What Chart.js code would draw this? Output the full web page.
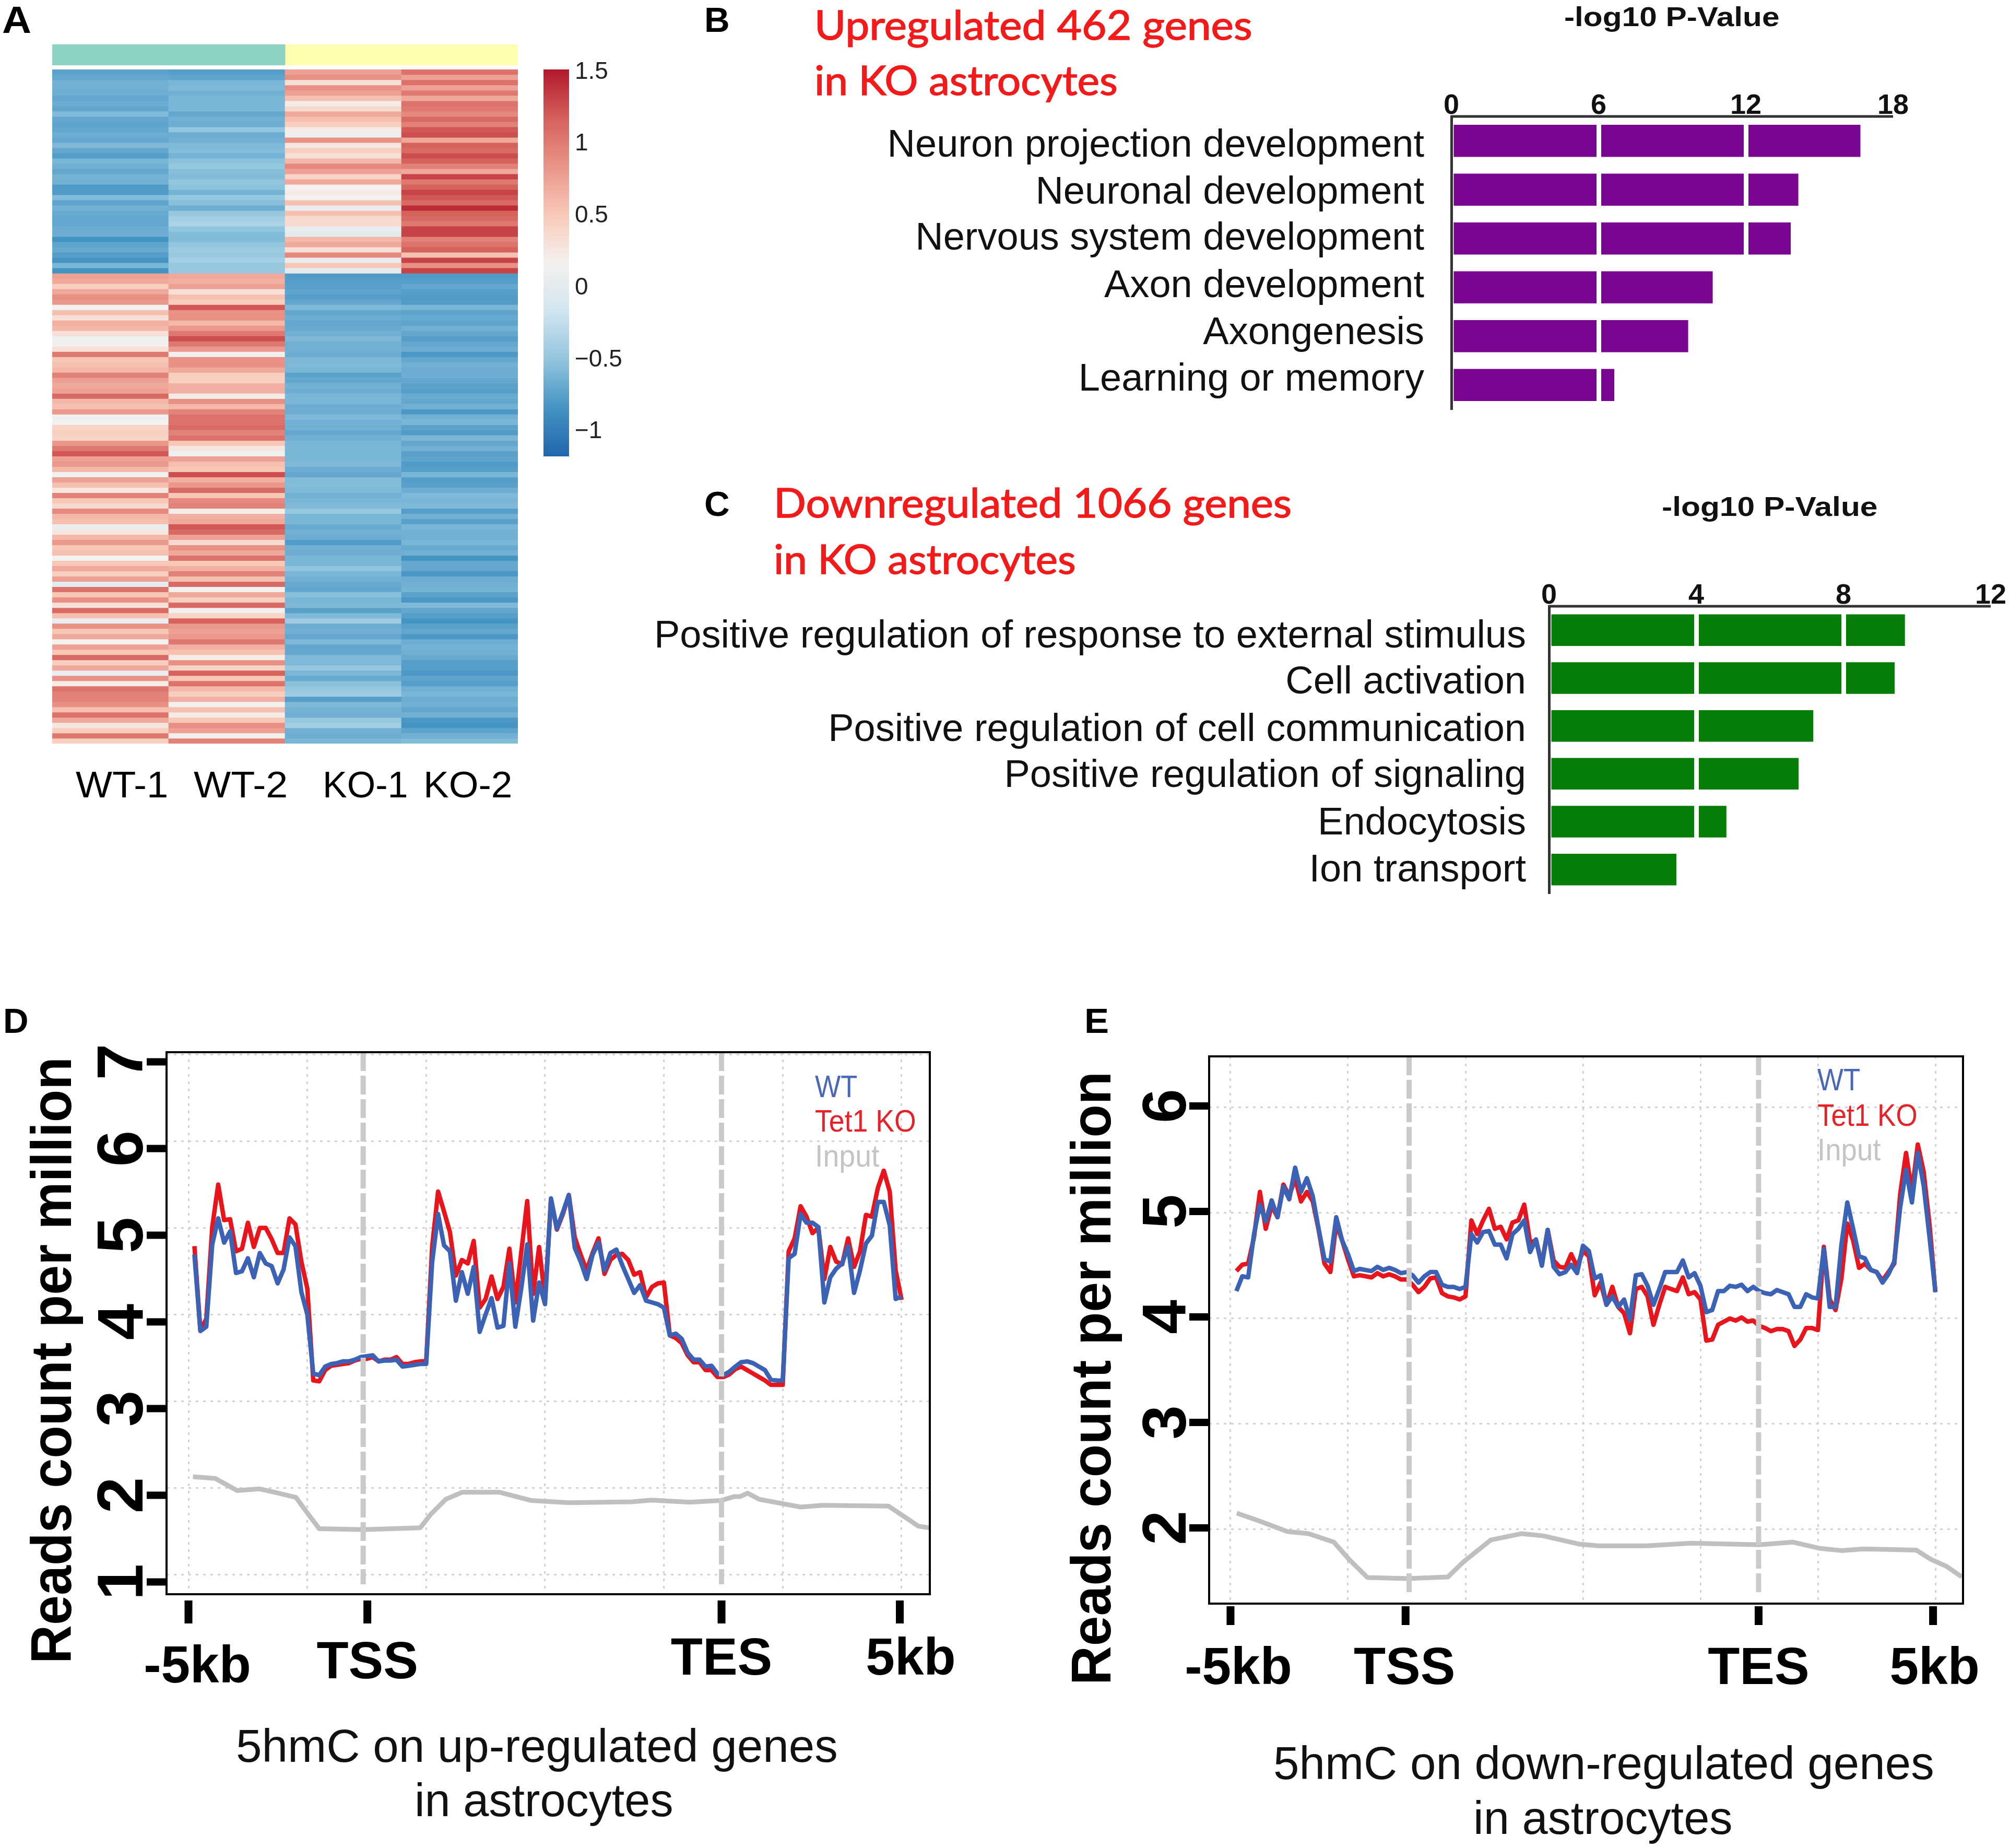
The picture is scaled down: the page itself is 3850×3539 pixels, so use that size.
<!DOCTYPE html>
<html>
<head>
<meta charset="utf-8">
<title>5hmC astrocytes figure</title>
<script src="https://cdn.jsdelivr.net/npm/chart.js@4"></script>
<style>
    html, body { margin: 0; background: #fff; }
    #page { position: relative; width: 3850px; height: 3539px; overflow: hidden; background: #fff; }
    #page canvas { position: absolute; }
    .txt { position: absolute; white-space: nowrap; transform-origin: 0 0; }
</style>
</head>
<body>
<div id="page"></div>
<script>
// panel A: heatmap, rows top to bottom
const samples = ['WT-1', 'WT-2', 'KO-1', 'KO-2'];
const heatWt1 = [
    -.75,-.72,-.65,-.66,-.68,-.72,-.68,-.72,-.58,-.72,-.74,-.72,-.68,-.72,-.6,-.72,-.78,-.62,-.66,-.72,-.64,-.65,-.8,-.8,-.58,-.74,-.65,-.7,-.72,-.72,-.68,-.68,-.85,-.74,-.7,-.78,-.85,-.62,-.85,
    .75,.7,.45,.7,.85,.8,.15,.55,.3,.65,.6,.3,.1,.15,.3,1,.5,.55,.6,.95,.75,.7,.75,1.1,.6,.55,.8,.1,.15,.4,.45,.4,.8,1,1.2,.75,.8,.6,.1,.75,.55,.25,.95,.5,.35,
    .9,.6,.55,.05,.25,.6,.8,.5,.55,.15,.5,.7,.45,.75,0,1.05,.5,.85,.3,1.1,.55,.05,.85,.5,.7,.15,.75,.5,1.1,.45,.7,.05,.85,.2,1.05,.95,.95,.85,.55,1.05,.7,.25,.45,1,.45
];
const heatWt2 = [
    -.78,-.74,-.62,-.6,-.65,-.62,-.62,-.62,-.72,-.66,-.68,-.52,-.68,-.66,-.6,-.58,-.64,-.55,-.5,-.56,-.58,-.52,-.54,-.64,-.5,-.56,-.68,-.5,-.42,-.38,-.52,-.58,-.58,-.52,-.46,-.48,-.42,-.5,-.48,
    .7,.65,.75,.3,.55,.45,1.2,.85,.85,.6,.8,1,1.25,1,.8,.15,.85,.85,.7,.45,.45,.65,.65,.2,.85,.6,.95,1.05,1.05,1.1,.95,1.05,.5,.25,.1,.75,.55,.5,1.25,.65,.8,1.1,.5,.9,.95,
    .2,.65,.7,1.2,1.1,.75,.35,.85,.7,1.05,.5,.65,.95,.55,1.1,.15,.7,.45,1.1,.15,.4,1.15,.8,.75,.8,1,.65,.55,.2,.85,.4,1.15,.5,1.05,.6,.45,.65,.15,.55,.2,.5,.85,.75,.15,.95
];
const heatKo1 = [
    .75,.85,.3,.85,.75,.55,.2,.35,.7,.55,.45,.2,.1,.85,.25,.45,.3,.6,.9,.75,.4,.7,.15,.2,.15,.55,.05,.55,.35,.35,.05,0,.6,.7,.3,.9,.05,.5,0,
    -.8,-.78,-.76,-.74,-.78,-.72,-.6,-.72,-.68,-.72,-.7,-.66,-.6,-.66,-.65,-.68,-.6,-.6,-.62,-.75,-.72,-.65,-.68,-.62,-.62,-.68,-.68,-.6,-.66,-.66,-.72,-.66,-.62,-.62,-.62,-.62,-.6,-.68,-.72,-.58,-.58,-.6,-.65,-.62,-.6,
    -.5,-.62,-.62,-.7,-.66,-.68,-.8,-.66,-.68,-.62,-.62,-.52,-.62,-.66,-.7,-.72,-.56,-.62,-.6,-.75,-.6,-.45,-.68,-.66,-.72,-.6,-.72,-.72,-.6,-.6,-.5,-.62,-.7,-.56,-.5,-.45,-.78,-.6,-.64,-.66,-.5,-.42,-.66,-.68,-.62
];
const heatKo2 = [
    1.05,.75,1.05,.75,1,.7,1.05,1,.9,1.1,.95,1.2,1.25,.7,1.15,1.1,1.25,1.15,.95,.7,1.3,1,1.15,1.3,1.2,1.1,1.4,1.15,1.1,1,1.3,1.3,.95,1.05,1.15,.55,1.3,.85,1.3,
    -.8,-.78,-.72,-.78,-.8,-.8,-.62,-.74,-.7,-.74,-.66,-.72,-.78,-.72,-.68,-.82,-.72,-.66,-.68,-.68,-.72,-.75,-.78,-.7,-.72,-.66,-.82,-.66,-.62,-.75,-.8,-.62,-.72,-.66,-.76,-.74,-.8,-.78,-.62,-.78,-.76,-.68,-.6,-.62,-.6,
    -.78,-.66,-.76,-.62,-.66,-.66,-.62,-.7,-.66,-.85,-.72,-.72,-.82,-.68,-.66,-.64,-.75,-.82,-.6,-.72,-.78,-.85,-.76,-.72,-.82,-.68,-.64,-.66,-.7,-.78,-.78,-.82,-.74,-.78,-.66,-.62,-.68,-.66,-.72,-.66,-.82,-.85,-.74,-.66,-.58
];
const colorStopValues = [-1.19, -.854, -.518, -.181, .155, .491, .827, 1.164, 1.5];
const colorStopHex = ['#2166ac', '#4393c3', '#92c5de', '#d1e5f0', '#f4f1ef', '#f8c9b8', '#ea9488', '#d5605a', '#b2182b'];

// panels B and C
const upTerms = ['Neuron projection development', 'Neuronal development', 'Nervous system development', 'Axon development', 'Axongenesis', 'Learning or memory'];
const upPvals = [16.67, 14.14, 13.83, 10.65, 9.65, 6.64];
const downTerms = ['Positive regulation of response to external stimulus', 'Cell activation', 'Positive regulation of cell communication', 'Positive regulation of signaling', 'Endocytosis', 'Ion transport'];
const downPvals = [9.67, 9.39, 7.18, 6.78, 4.82, 3.46];

// panel D, one value per bin (bins 1..120)
const wtUp = [4.69,3.81,3.86,4.81,5.11,4.83,4.96,4.48,4.50,4.65,4.43,4.71,4.59,4.56,4.36,4.52,4.89,4.79,4.26,4.00,
    3.32,3.30,3.40,3.43,3.44,3.46,3.46,3.48,3.51,3.52,3.53,3.46,3.47,3.47,3.48,3.40,3.41,3.42,3.43,3.43,
    4.60,5.16,4.80,4.73,4.16,4.49,4.24,4.55,3.80,4.00,4.19,3.85,3.87,4.59,3.86,4.30,4.81,3.93,4.37,4.12,
    5.34,4.99,5.18,5.38,4.77,4.61,4.41,4.69,4.83,4.51,4.71,4.75,4.57,4.41,4.25,4.34,4.16,4.14,4.12,4.08,
    3.76,3.78,3.72,3.56,3.48,3.48,3.40,3.41,3.32,3.30,3.34,3.40,3.45,3.46,3.44,3.40,3.36,3.25,3.24,3.24,
    4.65,4.70,5.16,5.06,5.06,5.01,4.14,4.43,4.53,4.59,4.79,4.25,4.51,4.82,4.91,5.30,5.30,5.03,4.18,4.21];
const koUp = [4.79,3.82,3.95,5.01,5.50,5.09,5.10,4.73,4.76,5.06,4.78,5.00,5.00,4.87,4.71,4.71,5.11,5.04,4.61,4.30,
    3.24,3.23,3.36,3.41,3.42,3.43,3.44,3.47,3.49,3.49,3.51,3.46,3.48,3.48,3.51,3.43,3.43,3.45,3.46,3.46,
    4.78,5.42,5.19,4.95,4.45,4.63,4.59,4.85,4.08,4.18,4.44,4.18,4.32,4.76,4.14,4.72,5.31,4.24,4.78,4.18,
    5.33,4.98,5.16,5.38,4.89,4.69,4.51,4.71,4.88,4.47,4.63,4.69,4.70,4.63,4.46,4.49,4.20,4.32,4.36,4.37,
    3.76,3.73,3.67,3.53,3.45,3.45,3.36,3.36,3.28,3.28,3.31,3.37,3.40,3.36,3.32,3.28,3.24,3.19,3.19,3.19,
    4.73,4.88,5.25,5.13,4.94,5.00,4.41,4.78,4.61,4.58,4.88,4.55,4.73,5.15,5.13,5.46,5.66,5.42,4.51,4.17];
const inputUpBins = [0.75,4.5,8.2,11.9,15.1,18.1,19.9,22,29.5,39,40.7,43.3,46,52.4,57.7,64,74.7,77.9,84.3,89.6,91.8,92.8,94.1,96,103,106.7,117.8,120,122.8,124.7];
const inputUpVals = [2.13,2.11,1.97,1.99,1.94,1.89,1.72,1.53,1.52,1.54,1.69,1.87,1.95,1.95,1.855,1.83,1.84,1.86,1.836,1.855,1.90,1.90,1.94,1.87,1.78,1.80,1.79,1.69,1.56,1.54];

// panel E
const wtDown = [4.26,4.40,4.39,4.80,5.08,4.92,5.12,4.96,5.25,5.13,5.43,5.20,5.33,5.16,4.85,4.56,4.54,4.96,4.74,4.61,
    4.45,4.47,4.46,4.45,4.49,4.46,4.48,4.46,4.43,4.44,4.41,4.34,4.40,4.44,4.44,4.32,4.30,4.30,4.28,4.30,
    4.80,4.72,4.82,4.83,4.70,4.70,4.57,4.80,4.85,4.93,4.63,4.75,4.50,4.84,4.49,4.42,4.44,4.51,4.43,4.69,
    4.64,4.38,4.41,4.13,4.21,4.11,4.18,3.99,4.41,4.42,4.31,4.13,4.28,4.44,4.44,4.44,4.55,4.39,4.43,4.31,
    4.06,4.08,4.26,4.26,4.31,4.30,4.32,4.26,4.30,4.26,4.24,4.23,4.27,4.25,4.23,4.11,4.11,4.23,4.20,4.19,
    4.66,4.11,4.11,4.70,5.10,4.85,4.59,4.57,4.46,4.44,4.34,4.42,4.54,5.05,5.41,5.10,5.57,5.26,4.77,4.25];
const koDown = [4.45,4.51,4.52,4.77,5.20,4.85,5.07,4.96,5.27,5.16,5.33,5.11,5.20,5.11,4.84,4.52,4.44,4.90,4.74,4.56,
    4.40,4.41,4.40,4.39,4.43,4.40,4.42,4.40,4.37,4.37,4.32,4.25,4.30,4.38,4.39,4.24,4.21,4.20,4.18,4.21,
    4.93,4.80,4.93,5.04,4.85,4.87,4.75,4.91,4.93,5.08,4.72,4.74,4.52,4.84,4.55,4.49,4.48,4.61,4.49,4.64,
    4.59,4.22,4.34,4.13,4.30,4.11,4.05,3.86,4.28,4.30,4.21,3.94,4.13,4.30,4.28,4.26,4.39,4.23,4.25,4.18,
    3.79,3.80,3.94,3.97,4.00,3.98,4.01,3.97,3.98,3.93,3.91,3.88,3.90,3.90,3.88,3.74,3.80,3.91,3.91,3.89,
    4.68,4.18,4.08,4.38,4.90,4.74,4.48,4.52,4.46,4.44,4.36,4.44,4.52,5.18,5.57,5.20,5.65,5.39,4.89,4.25];
const inputDownBins = [1.07,4.4,9.7,13.3,17.6,20.2,23.3,30.1,37,39.6,44.3,49.5,53.2,59.5,62.6,71,78.4,90,95.7,100.4,104,107.8,116.7,119.3,121.9,124.5];
const inputDownVals = [2.155,2.09,1.98,1.96,1.88,1.715,1.545,1.535,1.55,1.69,1.90,1.96,1.94,1.86,1.845,1.845,1.87,1.855,1.88,1.82,1.80,1.815,1.805,1.715,1.65,1.55];

const profileTickLabels = ['-5kb', 'TSS', 'TES', '5kb'];

const page = document.getElementById('page');
const SANS = '"Liberation Sans", Arial, sans-serif';
const LATO = 'Lato, sans-serif';

const hexToRgb = (hex) => [1, 3, 5].map(i => parseInt(hex.slice(i, i + 2), 16));

const heatColor = (v) => {
    let i = 0;
    while (i < colorStopValues.length - 2 && v > colorStopValues[i + 1]) i++;
    const t = Math.min(1, Math.max(0, (v - colorStopValues[i]) / (colorStopValues[i + 1] - colorStopValues[i])));
    const a = hexToRgb(colorStopHex[i]);
    const b = hexToRgb(colorStopHex[i + 1]);
    return `rgb(${a.map((c, k) => Math.round(c + (b[k] - c) * t)).join(',')})`;
};

// places a canvas so that the plot area lands on page coords
function addChart(plot, margin, config) {
    const canvas = document.createElement('canvas');
    const w = plot.x1 - plot.x0 + margin.l + margin.r;
    const h = plot.y1 - plot.y0 + margin.t + margin.b;
    canvas.width = w;
    canvas.height = h;
    canvas.style.cssText = `left:${plot.x0 - margin.l}px;top:${plot.y0 - margin.t}px;width:${w}px;height:${h}px`;
    page.appendChild(canvas);
    config.options = {
        responsive: false,
        animation: false,
        devicePixelRatio: 1,
        events: [],
        plugins: { legend: { display: false }, tooltip: { enabled: false } },
        ...config.options
    };
    return new Chart(canvas.getContext('2d'), config);
}

// free text, x and baseline in page coords, stretched to the width
function addText(text, x, baseline, { font = SANS, weight = 400, size = 60, color = '#000', width = null, rotate = 0, stroke = 0 } = {}) {
    const el = document.createElement('div');
    el.className = 'txt';
    el.textContent = text;
    el.style.fontFamily = font;
    el.style.fontWeight = weight;
    el.style.fontSize = size + 'px';
    el.style.color = color;
    if (stroke) el.style.webkitTextStroke = `${stroke}px ${color}`;
    const probe = document.createElement('span');
    probe.style.cssText = 'display:inline-block;width:0;height:0';
    el.appendChild(probe);
    page.appendChild(el);
    const base = probe.offsetTop;
    const k = width ? width / el.offsetWidth : 1;
    el.style.left = x + 'px';
    el.style.top = (baseline - base) + 'px';
    el.style.transformOrigin = `0 ${base}px`;
    el.style.transform = `${rotate ? `rotate(${rotate}deg) ` : ''}scaleX(${k})`;
}

// ---- panel A
const heatRows = heatWt1.map((v, i) => [v, heatWt2[i], heatKo1[i], heatKo2[i]]);
addChart({ x0: 100, y0: 133, x1: 992, y1: 1424 }, { l: 0, t: 0, r: 0, b: 0 }, {
    type: 'bar',
    data: {
        labels: samples,
        datasets: heatRows.map(row => ({
            data: samples.map(() => 1),
            backgroundColor: row.map(heatColor),
            barPercentage: 1,
            categoryPercentage: 1,
            stack: 'rows'
        }))
    },
    options: {
        layout: { autoPadding: false },
        scales: {
            x: { display: false, stacked: true },
            y: { display: false, stacked: true, reverse: true, min: 0, max: heatRows.length }
        }
    }
});

addChart({ x0: 100, y0: 85, x1: 992, y1: 125 }, { l: 0, t: 0, r: 0, b: 0 }, {
    type: 'bar',
    data: {
        labels: ['group'],
        datasets: [
            { data: [2], backgroundColor: '#8dd3c4', barPercentage: 1, categoryPercentage: 1 },
            { data: [2], backgroundColor: '#ffffb0', barPercentage: 1, categoryPercentage: 1 }
        ]
    },
    options: {
        indexAxis: 'y',
        layout: { autoPadding: false },
        scales: {
            x: { display: false, stacked: true, min: 0, max: 4 },
            y: { display: false, stacked: true }
        }
    }
});

addChart({ x0: 1041, y0: 133, x1: 1090, y1: 874 }, { l: 0, t: 45, r: 160, b: 45 }, {
    type: 'bar',
    data: {
        labels: ['scale'],
        datasets: [{
            data: [[-1.19, 1.5]],
            barPercentage: 1,
            categoryPercentage: 1,
            backgroundColor: (ctx) => {
                const { chart } = ctx;
                if (!chart.chartArea) return colorStopHex[0];
                const g = chart.ctx.createLinearGradient(0, chart.chartArea.bottom, 0, chart.chartArea.top);
                colorStopValues.forEach((v, i) => g.addColorStop((v + 1.19) / 2.69, colorStopHex[i]));
                return g;
            }
        }]
    },
    options: {
        layout: { autoPadding: false, padding: { top: 45, bottom: 45 } },
        scales: {
            x: { display: false },
            y: {
                position: 'right',
                min: -1.19,
                max: 1.5,
                afterFit: (s) => { s.width = 160; },
                grid: { display: false, drawTicks: false },
                border: { display: false },
                ticks: {
                    stepSize: 0.5,
                    includeBounds: false,
                    padding: 11,
                    labelOffset: 5,
                    color: '#222',
                    font: { family: SANS, size: 46 },
                    callback: (v) => String(v).replace('-', '\u2212')
                }
            }
        }
    }
});

// ---- panels B, C
// the axis line on top of the bars
const topAxisLine = {
    id: 'topAxisLine',
    afterDraw(chart) {
        const { ctx, chartArea: area } = chart;
        ctx.save();
        ctx.strokeStyle = '#333';
        ctx.lineWidth = 5;
        ctx.beginPath();
        ctx.moveTo(area.left, area.top);
        ctx.lineTo(area.right, area.top);
        ctx.stroke();
        ctx.restore();
    }
};

// labelRows: where the term labels sit, in rows from the top (they do not quite line up with the bars)
function addGoBars(plot, left, terms, values, color, max, step, labelGap, labelRows) {
    // top and bottom room must cover half a tick label plus its padding, the layout reserves that
    addChart(plot, { l: left, t: 110, r: 60, b: 110 }, {
        type: 'bar',
        data: {
            labels: terms,
            datasets: [{ data: values, backgroundColor: color, barPercentage: 0.66, categoryPercentage: 1 }]
        },
        options: {
            indexAxis: 'y',
            layout: { autoPadding: false, padding: { right: 60, bottom: 110 } },
            scales: {
                x: {
                    position: 'top',
                    min: 0,
                    max,
                    afterFit: (s) => { s.height = 110; },
                    grid: {
                        z: 1,
                        lineWidth: 9,
                        drawTicks: false,
                        color: (ctx) => (ctx.tick.value === 0 || ctx.tick.value === max ? 'rgba(0,0,0,0)' : '#fff')
                    },
                    border: { display: false },
                    ticks: { stepSize: step, padding: -13, color: '#111', maxRotation: 0, font: { family: SANS, size: 54, weight: 'bold' } }
                },
                y: { display: false },
                termLabels: {
                    type: 'linear',
                    axis: 'y',
                    position: 'left',
                    reverse: true,
                    offset: false,
                    min: 0,
                    max: terms.length,
                    afterBuildTicks: (s) => { s.ticks = labelRows.map(value => ({ value })); },
                    afterFit: (s) => { s.width = left; },
                    grid: { display: false, drawTicks: false, offset: false },
                    border: { display: true, color: '#333', width: 5 },
                    ticks: {
                        autoSkip: false,
                        padding: labelGap,
                        color: '#111',
                        font: { family: SANS, size: 74 },
                        callback: (v) => terms[labelRows.indexOf(v)]
                    }
                }
            }
        },
        plugins: [topAxisLine]
    });
}
addGoBars({ x0: 2780, y0: 223, x1: 3626, y1: 784 }, 1150, upTerms, upPvals, '#7a0590', 18, 6, 52, [0.60, 1.57, 2.51, 3.48, 4.45, 5.40]);
addGoBars({ x0: 2967, y0: 1161, x1: 3813, y1: 1711 }, 1750, downTerms, downPvals, '#067d06', 12, 4, 44, [0.634, 1.60, 2.59, 3.55, 4.54, 5.53]);

// ---- panels D, E
// outer tick marks, rotated y labels, x labels and the frame, all placed from the chart scales
const profileDecor = (o) => ({
    id: 'profileDecor',
    afterDraw(chart) {
        const { ctx, chartArea: area, scales } = chart;
        ctx.save();
        ctx.strokeStyle = '#000';
        ctx.lineWidth = 4;
        ctx.strokeRect(area.left, area.top, area.right - area.left, area.bottom - area.top);
        ctx.fillStyle = '#000';
        scales.y.ticks.forEach(t => {
            const py = scales.y.getPixelForValue(t.value) + o.yTickShift;
            ctx.fillRect(area.left - 38, py - 7, 38, 14);
            ctx.save();
            ctx.translate(area.left + o.yLabelBaseline, py);
            ctx.rotate(-Math.PI / 2);
            ctx.font = `bold ${o.yFont}px ${SANS}`;
            ctx.textAlign = 'center';
            ctx.textBaseline = 'alphabetic';
            ctx.fillText(String(t.value), 0, 0);
            ctx.restore();
        });
        ctx.font = `bold 100px ${SANS}`;
        ctx.textAlign = 'center';
        ctx.textBaseline = 'alphabetic';
        o.tickBins.forEach((b, i) => {
            const px = scales.x.getPixelForValue(b);
            ctx.fillRect(px - 7.5, area.bottom + o.xTickGap, 15, o.xTickLen);
            ctx.fillText(profileTickLabels[i], px + o.labelShift[i], area.bottom + o.labelDrop[i]);
        });
        ctx.restore();
    }
});

function addProfile(plot, margin, o) {
    const bins = o.wt.map((_, i) => i + 1);
    const toXY = (vals) => vals.map((y, i) => ({ x: bins[i], y }));
    const line = (data, color, width, extra = {}) => ({ data, borderColor: color, borderWidth: width, pointRadius: 0, tension: 0, borderJoinStyle: 'round', ...extra });
    const dashed = (x) => line([{ x, y: o.yMax }, { x, y: o.dashEnd }], '#cacaca', 10, { borderDash: [36, 9], borderCapStyle: 'butt' });
    const gridOpts = { color: '#d2d2d2', lineWidth: 3, drawTicks: false };
    addChart(plot, margin, {
        type: 'line',
        data: {
            datasets: [
                dashed(o.tss),
                dashed(o.tes),
                line(toXY(o.wt), '#3b62b4', 8.5),
                line(toXY(o.ko), '#e8151d', 8.5),
                line(o.inputBins.map((x, i) => ({ x, y: o.inputVals[i] })), '#bfbfbf', 9)
            ]
        },
        options: {
            layout: { autoPadding: false, padding: { left: margin.l, top: margin.t, right: margin.r, bottom: margin.b } },
            scales: {
                x: {
                    type: 'linear',
                    min: o.xMin,
                    max: o.xMax,
                    afterFit: (s) => { s.height = 0; },
                    grid: gridOpts,
                    border: { display: false, dash: [5, 9] },
                    ticks: { display: false, stepSize: 20, includeBounds: false }
                },
                y: {
                    min: o.yMin,
                    max: o.yMax,
                    afterFit: (s) => { s.width = 0; },
                    grid: gridOpts,
                    border: { display: false, dash: [5, 9] },
                    ticks: { display: false, stepSize: 1, includeBounds: false }
                }
            }
        },
        plugins: [profileDecor(o)]
    });
}

addProfile({ x0: 319, y0: 2015, x1: 1781, y1: 3053 }, { l: 319, t: 30, r: 80, b: 250 }, {
    wt: wtUp, ko: koUp, inputBins: inputUpBins, inputVals: inputUpVals,
    xMin: -3.69, xMax: 124.75, yMin: 0.774, yMax: 7.027,
    tss: 29.4, tes: 89.7, dashEnd: 0.888,
    tickBins: [0, 30.1, 89.7, 119.7],
    labelShift: [17, 0, 0, 21], labelDrop: [169, 161, 154, 154],
    xTickGap: 12, xTickLen: 44,
    yTickShift: 14, yLabelBaseline: -46, yFont: 125
});
addProfile({ x0: 2316, y0: 2023, x1: 3760, y1: 3071 }, { l: 200, t: 30, r: 80, b: 220 }, {
    wt: wtDown, ko: koDown, inputBins: inputDownBins, inputVals: inputDownVals,
    xMin: -3.64, xMax: 124.7, yMin: 1.297, yMax: 6.485,
    tss: 30.4, tes: 89.9, dashEnd: 1.40,
    tickBins: [0, 29.8, 89.9, 119.6],
    labelShift: [15, -2, 0, 3], labelDrop: [154, 154, 154, 154],
    xTickGap: 5, xTickLen: 36,
    yTickShift: -3, yLabelBaseline: -45, yFont: 118
});

// ---- text
const RED = '#f31a1a';
addText('A', 4, 63, { weight: 700, size: 72, width: 56 });
addText('B', 1349, 61, { weight: 700, size: 66, width: 49 });
addText('C', 1349, 988, { weight: 700, size: 66, width: 49 });
addText('D', 6, 1978, { weight: 700, size: 66, width: 49 });
addText('E', 2077, 1978, { weight: 700, size: 66, width: 47 });

addText('WT-1', 145, 1527, { size: 70, width: 177 });
addText('WT-2', 371, 1527, { size: 70, width: 180 });
addText('KO-1', 618, 1527, { size: 70, width: 163 });
addText('KO-2', 811, 1527, { size: 70, width: 170 });

addText('Upregulated 462 genes', 1560, 76, { font: LATO, size: 78, color: RED, width: 839, stroke: 1.5 });
addText('in KO astrocytes', 1560, 182, { font: LATO, size: 78, color: RED, width: 581, stroke: 1.5 });
addText('Downregulated 1066 genes', 1482, 991, { font: LATO, size: 78, color: RED, width: 992, stroke: 1.5 });
addText('in KO astrocytes', 1482, 1099, { font: LATO, size: 78, color: RED, width: 579, stroke: 1.5 });
addText('-log10 P-Value', 2996, 50, { weight: 700, size: 52, color: '#111', width: 412 });
addText('-log10 P-Value', 3183, 988, { weight: 700, size: 52, color: '#111', width: 413 });

addText('Reads count per million', 136, 3186, { weight: 700, size: 110, width: 1162, rotate: -90 });
addText('Reads count per million', 2127, 3227, { weight: 700, size: 108, width: 1175, rotate: -90 });

addText('WT', 1561, 2101, { size: 60, color: '#4a68b8', width: 81 });
addText('Tet1 KO', 1561, 2167, { size: 60, color: '#e62229', width: 194 });
addText('Input', 1561, 2234, { size: 60, color: '#c4c4c4', width: 123 });
addText('WT', 3481, 2088, { size: 60, color: '#4a68b8', width: 82 });
addText('Tet1 KO', 3481, 2156, { size: 60, color: '#e62229', width: 192 });
addText('Input', 3481, 2222, { size: 60, color: '#c4c4c4', width: 121 });

addText('5hmC on up-regulated genes', 452, 3374, { size: 89, color: '#111', width: 1153 });
addText('in astrocytes', 794, 3478, { size: 89, color: '#111', width: 496 });
addText('5hmC on down-regulated genes', 2439, 3407, { size: 89, color: '#111', width: 1266 });
addText('in astrocytes', 2822, 3512, { size: 89, color: '#111', width: 497 });
</script>
</body>
</html>
